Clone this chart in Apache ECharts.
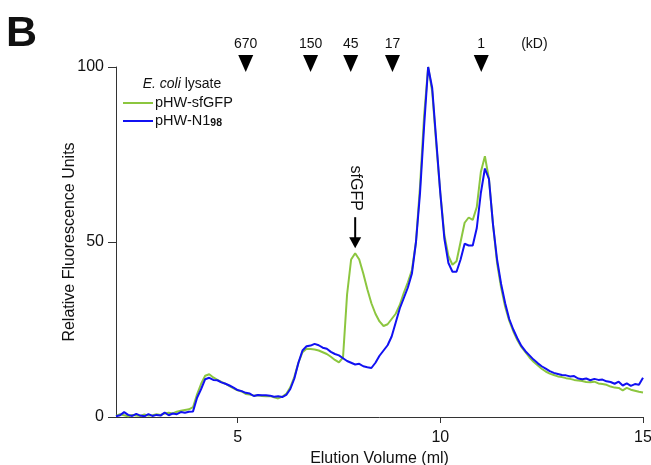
<!DOCTYPE html>
<html>
<head>
<meta charset="utf-8">
<script src="https://cdn.jsdelivr.net/npm/echarts@6/dist/echarts.min.js"></script>
<style>
html,body{margin:0;padding:0;background:#fff;}
#c{width:651px;height:465px;}
</style>
</head>
<body>
<div id="c"></div>
<script>
// Elution volume (ml), sampled every 0.1 ml from 2.0 to 15.0
const elutionStart = 2.0;
const elutionStep = 0.1;
// pHW-sfGFP (green)
const sfGFP = [
0.3,0.8,0.5,0.2,0.6,0.4,0.3,0.7,0.4,0.5,
0.8,0.6,1.0,1.2,1.0,1.5,1.8,2.0,2.2,2.8,
6.5,9.5,11.8,12.2,11.3,10.6,10.0,9.5,8.8,8.2,
7.6,7.3,6.6,6.4,6.1,6.2,6.0,5.9,6.0,5.6,
5.3,5.8,6.6,8.5,11.5,15.5,18.5,19.5,19.4,19.3,
19.0,18.5,18.0,17.2,16.3,15.6,17.0,35,45,46.8,
45,41,36.5,32.5,29.5,27.3,26.0,26.5,28,29.5,
32,35.5,38.5,42,50,66,86,100,93,78,
64,52,46,43.5,44.5,50,55.5,57,56.3,60,
70,74.5,68,55,44,37,31.5,27.5,24.5,22,
20,18.5,17,15.8,14.8,13.8,13.0,12.4,12.0,11.6,
11.4,11.1,10.9,10.6,10.4,10.3,10.0,9.9,10.1,9.6,
9.4,9.2,8.7,8.4,8.3,7.6,8.3,7.8,7.5,7.2,
7.0
];
// pHW-N1_98 (blue)
const n198 = [
0.2,0.5,1.4,0.6,0.3,0.9,0.4,0.2,0.8,0.3,
0.6,0.4,1.3,0.5,1.0,0.8,1.4,1.2,1.5,1.6,
5.5,8.0,10.8,11.2,10.6,10.5,9.9,9.5,9.0,8.4,
7.7,7.4,6.9,6.7,6.0,6.3,6.2,6.2,6.1,5.8,
5.9,5.7,6.3,8.0,11.0,15.5,19.0,20.2,20.4,20.9,
20.5,19.8,19.5,18.6,18.0,17.6,16.8,16.0,15.5,15.0,
15.2,14.5,14.2,14.0,15.5,17.5,19.0,20.5,23,27,
31,34,37,41,50,64,83,100,94,79,
64,51,44,41.5,41.5,45,49.5,49,49,54,
64,71,68,55,45,38,32.5,28,25,22.5,
20.3,18.8,17.6,16.4,15.4,14.5,13.8,13.1,12.6,12.3,
12.0,11.9,11.6,11.7,11.0,10.8,11.0,10.5,10.9,10.6,
10.7,10.2,10.0,9.5,10.1,9.0,9.6,8.9,9.4,9.2,
11.2
];
// Molecular weight markers
const markerLabels = ['670','150','45','17','1'];
const markerMl = [5.2, 6.8, 7.79, 8.82, 11.01];
const markerY = 101;
const xTicks = [5, 10, 15];
const sfGFPPeak = [7.9, 46.8];

const FONT = '"Liberation Sans", Arial, sans-serif';
const toPairs = arr => arr.map((v, i) => [+(elutionStart + i * elutionStep).toFixed(2), v]);
const LEG_ICON = 'path://M0,0L30,0L30,2L0,2Z';

const chart = echarts.init(document.getElementById('c'), null, {renderer: 'canvas'});
const option = {
  animation: false,
  backgroundColor: '#fff',
  textStyle: {fontFamily: FONT},
  grid: {left: 116, right: 8, top: 67, bottom: 48, containLabel: false, outerBoundsMode: 'none'},
  legend: {
    orient: 'vertical', left: 123, top: 95, padding: 0,
    itemWidth: 30, itemHeight: 2, itemGap: 2,
    textStyle: {fontSize: 14.5, lineHeight: 16, color: '#111', fontFamily: FONT, padding: [0,0,0,-3],
      rich: {sub: {fontSize: 10.5, lineHeight: 16, fontWeight: 'bold', color: '#111', fontFamily: FONT, verticalAlign: 'bottom', padding:[2,0,0,0]}}},
    data: [{name: 'pHW-sfGFP', icon: LEG_ICON}, {name: 'pHW-N198', icon: LEG_ICON}],
    formatter: n => n === 'pHW-N198' ? 'pHW-N1{sub|98}' : n
  },
  xAxis: {
    type: 'value', min: 2, max: 15,
    name: 'Elution Volume (ml)', nameLocation: 'middle', nameGap: 34, nameMoveOverlap: false,
    nameTextStyle: {fontSize: 16, color: '#111', fontFamily: FONT},
    axisLine: {lineStyle: {color: '#333', width: 1}},
    axisTick: {show: true, length: 6, customValues: xTicks, lineStyle: {color: '#333'}},
    axisLabel: {customValues: xTicks, fontSize: 16, color: '#111', margin: 13, fontFamily: FONT},
    splitLine: {show: false}
  },
  yAxis: {
    type: 'value', min: 0, max: 100, interval: 50,
    name: 'Relative Fluorescence Units', nameLocation: 'middle', nameGap: 38, nameMoveOverlap: false,
    nameTextStyle: {fontSize: 16, color: '#111', fontFamily: FONT},
    axisLine: {show: true, lineStyle: {color: '#333', width: 1}},
    axisTick: {show: true, length: 8, lineStyle: {color: '#333'}},
    axisLabel: {fontSize: 16, color: '#111', margin: 12, fontFamily: FONT},
    splitLine: {show: false}
  },
  series: [
    {name: 'pHW-sfGFP', type: 'line', data: toPairs(sfGFP), showSymbol: false, symbol: 'none',
     lineStyle: {color: '#8cc63f', width: 2}, itemStyle: {color: '#8cc63f'}, z: 2},
    {name: 'pHW-N198', type: 'line', data: toPairs(n198), showSymbol: false, symbol: 'none',
     lineStyle: {color: '#1111f2', width: 2}, itemStyle: {color: '#1111f2'}, z: 3},
    {name: 'markers', type: 'scatter', clip: false, silent: true,
     data: markerMl.map((x, i) => ({value: [x, markerY], label: {formatter: markerLabels[i]}})),
     symbol: 'triangle', symbolRotate: 180, symbolSize: [15, 17],
     itemStyle: {color: '#000', opacity: 1},
     label: {show: true, position: 'top', distance: 4, fontSize: 14, color: '#111', fontFamily: FONT}}
  ]
};
chart.setOption(option);

const peakPx = chart.convertToPixel({gridIndex: 0}, sfGFPPeak);
const kdPx = chart.convertToPixel({gridIndex: 0}, [12.32, markerY]);
chart.setOption({
  graphic: [
    {type: 'text', left: 6, top: 13, style: {text: 'B', fontSize: 43, fontWeight: 'bold', fill: '#111', fontFamily: FONT}},
    {type: 'text', x: kdPx[0], y: 44, style: {text: '(kD)', fontSize: 14, fill: '#111', fontFamily: FONT, align: 'center', verticalAlign: 'middle'}},
    {type: 'text', x: 182, y: 84, style: {
      text: '{i|E. coli} lysate', fontSize: 14, fill: '#111', fontFamily: FONT, align: 'center', verticalAlign: 'middle',
      rich: {i: {fontStyle: 'italic', fontSize: 14, fill: '#111', fontFamily: FONT}}}},
    {type: 'text', x: peakPx[0], y: peakPx[1] - 65, rotation: -Math.PI / 2,
     style: {text: 'sfGFP', fontSize: 16, fill: '#111', fontFamily: FONT, align: 'center', verticalAlign: 'middle'}},
    {type: 'line', shape: {x1: peakPx[0], y1: peakPx[1] - 36, x2: peakPx[0], y2: peakPx[1] - 14},
     style: {stroke: '#000', lineWidth: 2}},
    {type: 'polygon', shape: {points: [[peakPx[0] - 6, peakPx[1] - 16], [peakPx[0] + 6, peakPx[1] - 16], [peakPx[0], peakPx[1] - 5]]},
     style: {fill: '#000'}}
  ]
});
</script>
</body>
</html>
